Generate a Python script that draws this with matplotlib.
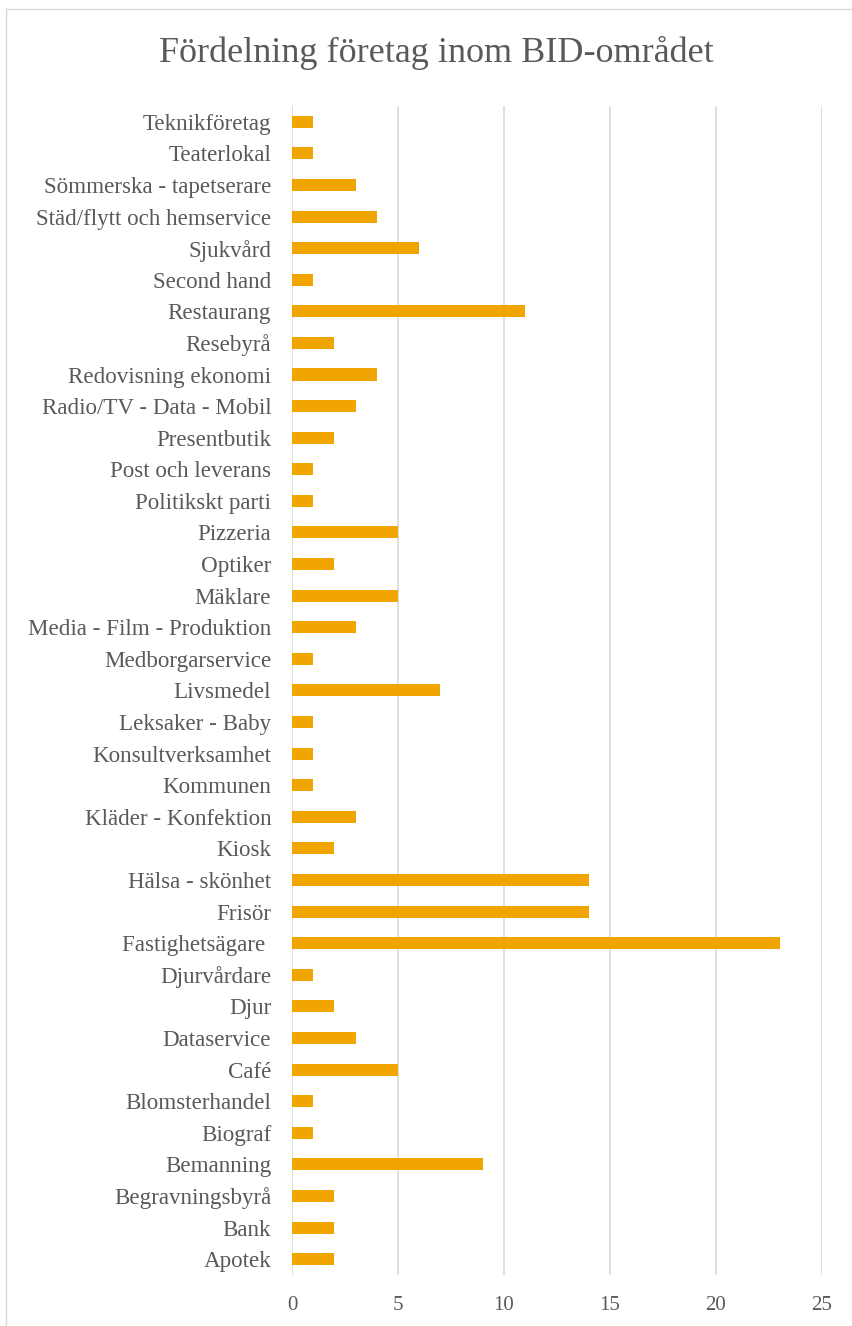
import matplotlib.pyplot as plt
from matplotlib.lines import Line2D

# kategorier nerifrån och upp
kategorier = [
    "Apotek", "Bank", "Begravningsbyrå", "Bemanning", "Biograf",
    "Blomsterhandel", "Café", "Dataservice", "Djur", "Djurvårdare",
    "Fastighetsägare ", "Frisör", "Hälsa - skönhet", "Kiosk",
    "Kläder - Konfektion", "Kommunen", "Konsultverksamhet",
    "Leksaker - Baby", "Livsmedel", "Medborgarservice",
    "Media - Film - Produktion", "Mäklare", "Optiker", "Pizzeria",
    "Politikskt parti", "Post och leverans", "Presentbutik",
    "Radio/TV - Data - Mobil", "Redovisning ekonomi", "Resebyrå",
    "Restaurang", "Second hand", "Sjukvård", "Städ/flytt och hemservice",
    "Sömmerska - tapetserare", "Teaterlokal", "Teknikföretag",
]
antal = [2, 2, 2, 9, 1, 1, 5, 3, 2, 1, 23, 14, 14, 2, 3, 1, 1, 1, 7, 1,
         3, 5, 2, 5, 1, 1, 2, 3, 4, 2, 11, 1, 6, 4, 3, 1, 1]
xticks = [0, 5, 10, 15, 20, 25]

plt.rcParams['font.family'] = ['Liberation Serif', 'DejaVu Serif']
textfarg = '#595959'

fig = plt.figure(figsize=(8.53, 13.26), dpi=100)
ax = fig.add_axes([0.3423, 0.0385, 0.6213, 0.8816])

ax.barh(range(len(kategorier)), antal, height=0.38, color='#F0A500', zorder=3)
ax.set_yticks(range(len(kategorier)))
ax.set_yticklabels(kategorier, fontsize=16.6, color=textfarg)
ax.set_ylim(-0.5, len(kategorier) - 0.5)

ax.set_xlim(0, 25)
ax.set_xticks(xticks)
ax.set_xticklabels([str(t) for t in xticks], fontsize=15, color=textfarg)
ax.grid(axis='x', color='#D9D9D9', linewidth=1.2, zorder=0)
ax.tick_params(axis='y', length=0, pad=15)
ax.tick_params(axis='x', length=0, pad=15)
for s in ax.spines.values():
    s.set_visible(False)

fig.text(0.511, 0.960, "Fördelning företag inom BID-området",
         ha='center', va='center', fontsize=26, color=textfarg)

# ram runt diagrammet
kant = '#D9D9D9'
fig.add_artist(Line2D([6/853, 6/853], [0, 1 - 9/1326], color=kant, lw=1))
fig.add_artist(Line2D([6/853, 1], [1 - 9/1326, 1 - 9/1326], color=kant, lw=1))

fig.savefig('out.png', dpi=100)
